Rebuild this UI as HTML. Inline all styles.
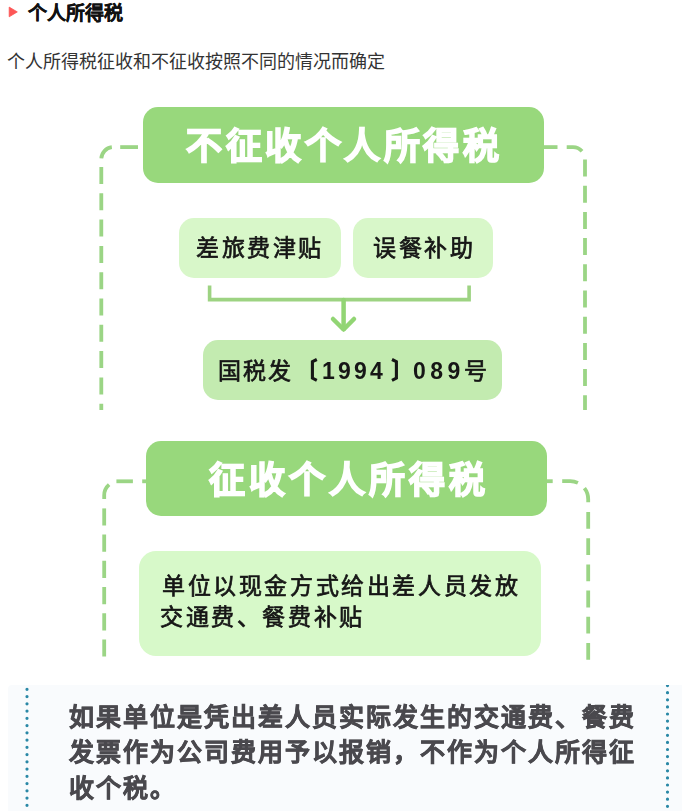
<!DOCTYPE html>
<html lang="zh-CN">
<head>
<meta charset="utf-8">
<style>
html,body{margin:0;padding:0;background:#fff;}
body{width:682px;height:811px;position:relative;overflow:hidden;font-family:"Liberation Sans",sans-serif;}
.abs{position:absolute;white-space:nowrap;}
.t1,.st,.bt{will-change:transform;}
.h{left:28px;top:1.5px;font-size:19px;font-weight:700;color:#111;line-height:24px;-webkit-text-stroke:0.3px #111;}
.p{left:7px;top:49px;font-size:18px;color:#333;line-height:26px;}
.gbox{background:#98d87c;border-radius:15px;}
.t1{color:#fff;font-weight:700;font-size:36px;letter-spacing:3.5px;line-height:40px;-webkit-text-stroke:1.6px #fff;}
.sbox{background:#d8f7c9;border-radius:15px;}
.st{color:#161616;font-size:23px;letter-spacing:2.6px;line-height:28px;margin-top:1px;-webkit-text-stroke:0.7px #161616;}
.dg{font-weight:700;-webkit-text-stroke:0;}
.bbox{left:8px;top:685px;width:674px;height:126px;background:#f9fbfd;border-radius:4px 0 0 0;}
.bt{left:69px;top:700px;font-size:25px;font-weight:700;color:#4a494e;line-height:35.3px;letter-spacing:2px;-webkit-text-stroke:0.6px #4a494e;}
</style>
</head>
<body>
<svg class="abs" style="left:0;top:0" width="30" height="30"><polygon points="9.2,7.1 17.3,11.9 9.2,16.8" fill="#fd5656" stroke="#fd5656" stroke-width="0.8" stroke-linejoin="round"/></svg>
<div class="abs h">个人所得税</div>
<div class="abs p">个人所得税征收和不征收按照不同的情况而确定</div>

<svg class="abs" style="left:0;top:0" width="682" height="811" viewBox="0 0 682 811">
  <g fill="none" stroke="#9bd585" stroke-width="3.8">
    <path d="M120.2 147.1 H138"/>
    <path d="M111.84 147.19 A12 12 0 0 0 101.33 158.26"/>
    <path d="M101.3 167 V410" stroke-dasharray="17 9.3"/>
    <path d="M544 147.1 H557.5"/>
    <path d="M566.7 147.1 H573 A12 12 0 0 1 582 151.2"/>
    <path d="M585 159.5 V410" stroke-dasharray="17 9.2"/>
    <path d="M142.2 481.3 H146"/>
    <path d="M116.4 481.3 H132.9"/>
    <path d="M109.1 484.65 A14 14 0 0 0 104.2 495.3 V499"/>
    <path d="M104.2 508.4 V660" stroke-dasharray="17.2 9"/>
    <path d="M547 481.2 H552.7"/>
    <path d="M562.2 481.2 H570.2 A18 18 0 0 1 577.9 482.9"/>
    <path d="M584.4 488.1 A18 18 0 0 1 588.2 499.2 V502.3"/>
    <path d="M588.2 512 V660" stroke-dasharray="16.8 9.4"/>
  </g>
  <path d="M209.6 285.4 V299.6 H469.1 V285.4" fill="none" stroke="#9dd382" stroke-width="3.6"/>
  <g fill="none" stroke="#92d574" stroke-width="4.5" stroke-linecap="round" stroke-linejoin="round">
    <path d="M343.6 300 V329"/>
    <path d="M333 319 L343.6 329.5 L354 319"/>
  </g>
</svg>

<div class="abs gbox" style="left:142.5px;top:107.2px;width:401.5px;height:75.8px;"></div>
<div class="abs t1" style="left:186px;top:127px;">不征收个人所得税</div>

<div class="abs sbox" style="left:178.8px;top:218px;width:162.2px;height:60px;"></div>
<div class="abs st" style="left:195.5px;top:233px;">差旅费津贴</div>
<div class="abs sbox" style="left:353px;top:218px;width:140.3px;height:59.5px;"></div>
<div class="abs st" style="left:372.5px;top:233px;">误餐补助</div>

<div class="abs sbox" style="left:202.5px;top:339.6px;width:299.5px;height:60px;background:#c3ebb0;"></div>
<div class="abs st" style="left:218px;top:356px;letter-spacing:2.1px;">国税发</div>
<svg class="abs" style="left:0;top:0" width="682" height="420">
  <g fill="none" stroke="#161616" stroke-width="3.1" stroke-linejoin="miter">
    <path d="M316.8 359.5 L312.4 361.7 V378.1 L316.8 380.3"/>
    <path d="M392 359.5 L396.4 361.7 V378.1 L392 380.3"/>
  </g>
</svg>
<div class="abs st dg" style="left:322.1px;top:356px;letter-spacing:3.2px;">1994</div>
<div class="abs st dg" style="left:412.9px;top:356px;letter-spacing:4.4px;">089</div>
<div class="abs st" style="left:464px;top:356px;">号</div>

<div class="abs gbox" style="left:145.5px;top:441.2px;width:401.8px;height:75.3px;"></div>
<div class="abs t1" style="left:209px;top:461px;letter-spacing:4px;">征收个人所得税</div>

<div class="abs sbox" style="left:138.8px;top:550.5px;width:402.1px;height:105.1px;background:#d7f9c9;border-radius:17px;"></div>
<div class="abs st" style="left:161.5px;top:569.6px;line-height:31px;">单位以现金方式给出差人员发放</div>
<div class="abs st" style="left:159.8px;top:600.6px;line-height:31px;">交通费、餐费补贴</div>

<div class="abs bbox"></div>
<svg class="abs" style="left:0;top:685px" width="682" height="126">
  <line x1="27" y1="4.3" x2="27" y2="126" stroke="#2a88a6" stroke-width="3.2" stroke-linecap="round" stroke-dasharray="0 7.25"/>
  <line x1="667.5" y1="0.6" x2="667.5" y2="126" stroke="#2a88a6" stroke-width="3.2" stroke-linecap="round" stroke-dasharray="0 7.1"/>
</svg>
<div class="abs bt">如果单位是凭出差人员实际发生的交通费、餐费<br>发票作为公司费用予以报销，不作为个人所得征<br>收个税。</div>
</body>
</html>
